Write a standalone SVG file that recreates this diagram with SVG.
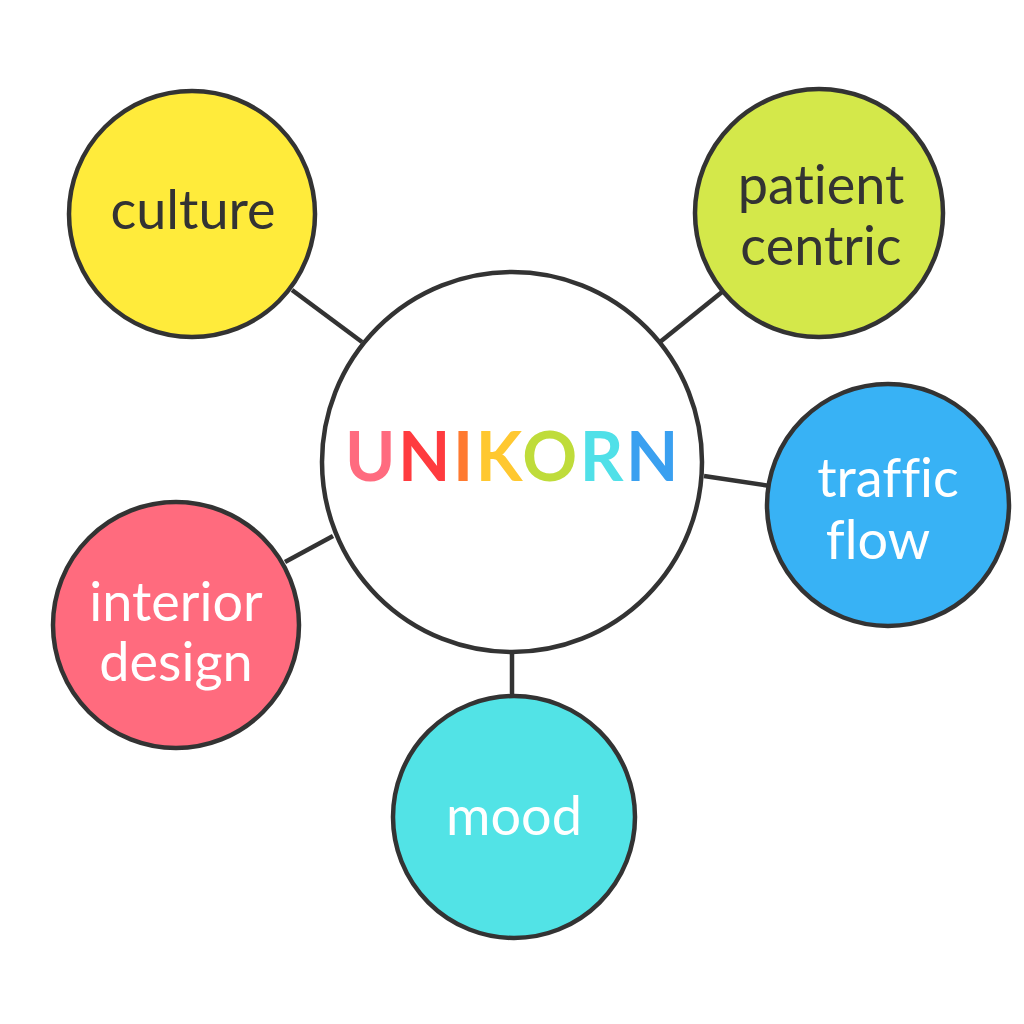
<svg xmlns="http://www.w3.org/2000/svg" width="1024" height="1024" viewBox="0 0 1024 1024">
<style>
.node{stroke:#333;stroke-width:4.5}
.lbl{font-family:Lato,"Open Sans",sans-serif;font-size:54px;text-anchor:middle;font-variant-ligatures:none}
.dark{fill:#333}
.light{fill:#fff}
.conn line{stroke:#333;stroke-width:4.5}
.title{font-family:Lato,"Open Sans",sans-serif;font-size:68px;font-weight:bold;letter-spacing:2.5px}
</style>
<rect width="1024" height="1024" fill="#fff"/>
<g class="conn" id="connectors">
<line x1="292" y1="290" x2="362" y2="342"/>
<line x1="722" y1="292" x2="660" y2="342"/>
<line x1="704" y1="476" x2="770" y2="486"/>
<line x1="285" y1="562" x2="333" y2="536"/>
<line x1="512" y1="652" x2="512" y2="698"/>
</g>
<g id="center">
<circle class="node" cx="512" cy="462" r="190" fill="#fff"/>
<text class="title" x="513" y="481" text-anchor="middle"><tspan fill="#FF6B7F">U</tspan><tspan fill="#FF3B3F">N</tspan><tspan fill="#FF7A30">I</tspan><tspan fill="#FFC830">K</tspan><tspan fill="#BFDC3A">O</tspan><tspan fill="#50E0E8">R</tspan><tspan fill="#3AA0F0">N</tspan></text>
</g>
<g id="culture">
<circle class="node" cx="192" cy="214" r="123" fill="#FFEB3B"/>
<text class="lbl dark" x="193" y="229">culture</text>
</g>
<g id="patient-centric">
<circle class="node" cx="819" cy="213" r="124" fill="#D4E84A"/>
<text class="lbl dark" x="821" y="204">patient</text>
<text class="lbl dark" x="821" y="265">centric</text>
</g>
<g id="traffic-flow">
<circle class="node" cx="888" cy="505" r="121" fill="#38B2F5"/>
<text class="lbl light" x="888" y="497">traffic</text>
<text class="lbl light" x="878" y="559">flow</text>
</g>
<g id="interior-design">
<circle class="node" cx="176" cy="625" r="123" fill="#FF6B7E"/>
<text class="lbl light" x="176" y="621">interior</text>
<text class="lbl light" x="176" y="681">design</text>
</g>
<g id="mood">
<circle class="node" cx="514" cy="817" r="121" fill="#52E3E6"/>
<text class="lbl light" x="514" y="835">mood</text>
</g>
</svg>
